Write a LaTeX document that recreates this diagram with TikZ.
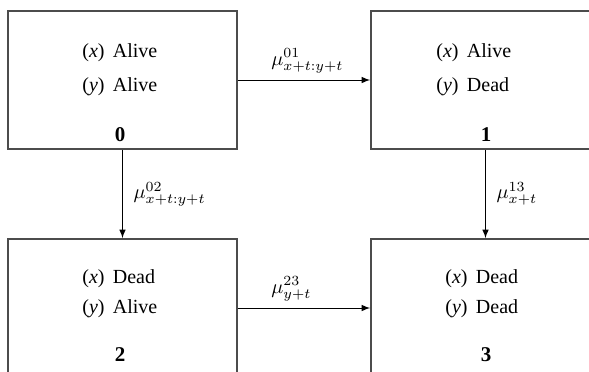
\documentclass[tikz,border=0pt]{standalone}
\usepackage{amssymb,amsmath}
\usepackage{fontspec}
\setmainfont{Liberation Serif}
\usepackage{xcolor}
\usepackage{tikz}
\usetikzlibrary{arrows}
\definecolor{boxgray}{gray}{0.3}
\tikzstyle{arrow} = [->,>=latex,line width=0.5pt]
\tikzstyle{state} = [draw=boxgray,line width=0.8pt,minimum width=114.5pt,minimum height=69pt,inner sep=0pt]
\tikzstyle{life} = [anchor=west,inner sep=0pt,font=\fontsize{10}{12}\selectfont]
\tikzstyle{num} = [inner sep=0pt,font=\fontsize{10.5}{12}\selectfont\bfseries]

\begin{document}
\begin{tikzpicture}[x=0.5pt,y=-0.5pt]
        \useasboundingbox (0,0) rectangle (589,371);
        \clip (0,0) rectangle (589,371);
        % States
        \draw (122.5,80) node[state] (s0) {};
        \draw (485.5,80) node[state] (s1) {};
        \draw (122.5,308) node[state] (s2) {};
        \draw (485.5,308) node[state] (s3) {};
        % lives
        \draw (82,53) node[life] (s0x) {(\textit{x})\, Alive};
        \draw (82,87) node[life] (s0y) {(\textit{y})\, Alive};
        \draw (120,135) node[num] (s0n) {0};
        \draw (436,53) node[life] (s1x) {(\textit{x})\, Alive};
        \draw (436,87) node[life] (s1y) {(\textit{y})\, Dead};
        \draw (486,135) node[num] (s1n) {1};
        \draw (82,279) node[life] (s2x) {(\textit{x})\, Dead};
        \draw (82,309) node[life] (s2y) {(\textit{y})\, Alive};
        \draw (120,355) node[num] (s2n) {2};
        \draw (445,279) node[life] (s3x) {(\textit{x})\, Dead};
        \draw (445,309) node[life] (s3y) {(\textit{y})\, Dead};
        \draw (486,355) node[num] (s3n) {3};
        % transitions
        \draw[arrow] (s0) -- node[above right,pos=0.2] {$\mu^{01}_{x+t:y+t}$} (s1);
        \draw[arrow] (s2) -- node[above right,pos=0.2] {$\mu^{23}_{y+t}$} (s3);
        \draw[arrow] (s0) -- node[right,midway,xshift=2pt] {$\mu^{02}_{x+t:y+t}$} (s2);
        \draw[arrow] (s1) -- node[right,midway,xshift=2pt] {$\mu^{13}_{x+t}$} (s3);
    \end{tikzpicture}
\end{document}
